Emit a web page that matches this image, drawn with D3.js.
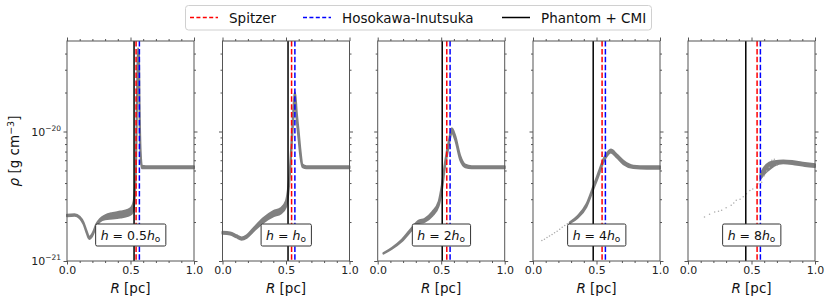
<!DOCTYPE html>
<html>
<head>
<meta charset="utf-8">
<script src="https://cdn.jsdelivr.net/npm/d3@7"></script>
<style>
  body { margin: 0; background: #fff; }
  text { font-family: "DejaVu Sans", sans-serif; }
</style>
</head>
<body>
<svg width="831" height="299"></svg>
<script>
// h multiplier shown in each panel box ('' means h = h_o)
let hLabels = ['0.5', '', '2', '4', '8']
// ionisation front radius [pc]
let phantomR = [0.528, 0.516, 0.508, 0.474, 0.455]
let spitzerR = 0.544
let hosokawaR = 0.570
let xMajor = [0, 0.5, 1.0]
let xMinor = [0.1, 0.2, 0.3, 0.4, 0.6, 0.7, 0.8, 0.9]
let yMajor = [1e-21, 1e-20]
let yMinor = [2e-21, 3e-21, 4e-21, 5e-21, 6e-21, 7e-21, 8e-21, 9e-21, 2e-20, 3e-20, 4e-20]

// density profiles: [R pc, rho low, rho high] in units of 1e-21 g cm^-3
let profile1 = [
  [0.00, 2.22, 2.28], [0.06, 2.24, 2.30], [0.10, 2.14, 2.20], [0.13, 1.93, 1.99],
  [0.155, 1.64, 1.70], [0.175, 1.48, 1.53], [0.20, 1.57, 1.63], [0.23, 1.85, 1.92],
  [0.26, 2.02, 2.11], [0.30, 2.10, 2.25], [0.36, 2.13, 2.35], [0.42, 2.17, 2.41],
  [0.48, 2.23, 2.49], [0.51, 2.31, 2.62], [0.525, 2.55, 2.9], [0.535, 3.2, 3.7],
  [0.545, 6.5, 8.0], [0.552, 18, 22], [0.558, 38, 44], [0.566, 34, 40],
  [0.572, 12, 15], [0.58, 6.2, 7.0], [0.59, 5.2, 5.45], [0.65, 5.2, 5.4], [1.00, 5.2, 5.4]
]
let profile2 = [
  [0.00, 1.62, 1.68], [0.06, 1.60, 1.66], [0.11, 1.52, 1.58], [0.15, 1.46, 1.52],
  [0.19, 1.51, 1.58], [0.24, 1.68, 1.78], [0.32, 1.98, 2.14], [0.40, 2.21, 2.43],
  [0.46, 2.33, 2.56], [0.50, 2.62, 2.92], [0.518, 3.3, 3.75], [0.532, 4.8, 5.4],
  [0.553, 10.5, 12.5], [0.566, 16, 19], [0.572, 17, 20], [0.585, 12, 14],
  [0.60, 8.5, 10], [0.615, 6.2, 7.0], [0.63, 5.3, 5.55], [0.66, 5.2, 5.4], [1.00, 5.2, 5.4]
]
let profile3 = [
  [0.045, 1.14, 1.15], [0.11, 1.24, 1.26], [0.19, 1.42, 1.46], [0.27, 1.74, 1.81],
  [0.32, 1.95, 2.04], [0.37, 2.01, 2.12], [0.43, 2.23, 2.40], [0.48, 2.66, 2.88],
  [0.505, 3.5, 3.85], [0.53, 5.3, 5.8], [0.558, 7.6, 8.3], [0.584, 9.8, 10.6],
  [0.61, 8.6, 9.3], [0.65, 6.0, 6.5], [0.69, 5.3, 5.55], [0.74, 5.2, 5.4], [1.00, 5.2, 5.4]
]
let profile4 = [
  [0.29, 1.96, 1.99], [0.35, 2.15, 2.22], [0.42, 2.61, 2.74], [0.476, 3.6, 3.8],
  [0.516, 4.55, 4.85], [0.555, 5.8, 6.15], [0.594, 6.7, 7.05], [0.613, 6.9, 7.25],
  [0.66, 6.3, 6.65], [0.712, 5.6, 5.95], [0.79, 5.22, 5.45], [0.895, 5.15, 5.38], [1.00, 5.15, 5.38]
]
let profile5 = [
  [0.57, 4.3, 4.7], [0.60, 4.7, 5.3], [0.64, 5.1, 5.75], [0.68, 5.45, 5.9], [0.75, 5.68, 5.98],
  [0.82, 5.62, 5.92], [0.92, 5.42, 5.72], [1.00, 5.32, 5.58]
]
// sparse particles: [R pc, rho] in units of 1e-21
let sparse4 = [
  [0.07, 1.44], [0.09, 1.47], [0.11, 1.52], [0.13, 1.56], [0.15, 1.60], [0.17, 1.65],
  [0.19, 1.70], [0.21, 1.76], [0.23, 1.82], [0.25, 1.88], [0.27, 1.94]
]
let sparse5 = [
  [0.13, 2.19], [0.17, 2.30], [0.21, 2.39], [0.24, 2.42], [0.265, 2.47], [0.30, 2.58],
  [0.34, 2.69], [0.36, 2.80], [0.38, 2.94], [0.41, 3.00], [0.435, 3.13], [0.46, 3.30],
  [0.487, 3.51], [0.51, 3.60], [0.54, 3.72], [0.55, 3.95], [0.565, 4.15], [0.58, 4.05],
  [0.60, 4.55], [0.62, 4.95], [0.64, 5.3], [0.66, 6.0], [0.68, 6.1], [0.70, 5.5]
]
let profiles = [profile1, profile2, profile3, profile4, profile5]
let sparses = [[], [], [], sparse4, sparse5]

let svg = d3.select('svg')
let panelLeft = [67, 222.5, 377.7, 533, 688]
let pw = 127
let topY = 41
let ph = 220
let gray = '#808080'
let axisColor = '#555'

let x = d3.scaleLinear().domain([0, 1]).range([0, pw])
let y = d3.scaleLog().domain([1e-21, 5e-20]).range([ph, 0])

let area = d3.area()
  .x(d => x(d[0]))
  .y0(d => y(d[1] * 1e-21))
  .y1(d => y(d[2] * 1e-21))
  .curve(d3.curveMonotoneX)

function styleAxis(g) {
  g.select('.domain').remove()
  g.selectAll('line').attr('stroke', axisColor)
  g.selectAll('text').attr('fill', '#222').style('font-size', '11px')
}

profiles.forEach((prof, i) => {
  let g = svg.append('g').attr('transform', `translate(${panelLeft[i]},${topY})`)

  // profile band
  g.append('path')
    .datum(prof)
    .attr('d', area)
    .attr('fill', gray)
    .attr('stroke', gray)
    .attr('stroke-width', 2)
    .attr('stroke-linejoin', 'round')

  g.selectAll('circle.sp')
    .data(sparses[i])
    .enter()
    .append('circle')
    .attr('class', 'sp')
    .attr('cx', d => x(d[0]))
    .attr('cy', d => y(d[1] * 1e-21))
    .attr('r', 0.75)
    .attr('fill', '#aaa')

  // front radii
  let vlines = [
    { r: phantomR[i], color: 'black', dash: null },
    { r: spitzerR, color: 'red', dash: '5.5,2.4' },
    { r: hosokawaR, color: 'blue', dash: '5.5,2.4' }
  ]
  g.selectAll('line.v')
    .data(vlines)
    .enter()
    .append('line')
    .attr('class', 'v')
    .attr('x1', d => x(d.r))
    .attr('x2', d => x(d.r))
    .attr('y1', 0)
    .attr('y2', ph)
    .attr('stroke', d => d.color)
    .attr('stroke-width', 1.5)
    .attr('stroke-dasharray', d => d.dash)

  // axes
  g.append('g').attr('transform', `translate(0,${ph})`)
    .call(d3.axisBottom(x).tickValues(xMajor).tickFormat(d3.format('.1f')).tickSize(3.5).tickPadding(2))
    .call(styleAxis)
  g.append('g').attr('transform', `translate(0,${ph})`)
    .call(d3.axisBottom(x).tickValues(xMinor).tickFormat('').tickSize(2))
    .call(styleAxis)
  g.append('g')
    .call(d3.axisTop(x).tickValues(xMajor).tickFormat('').tickSize(3.5))
    .call(styleAxis)
  g.append('g')
    .call(d3.axisTop(x).tickValues(xMinor).tickFormat('').tickSize(2))
    .call(styleAxis)
  g.append('g').attr('transform', `translate(${pw},0)`)
    .call(d3.axisRight(y).tickValues(yMajor).tickFormat('').tickSize(3.5))
    .call(styleAxis)
  g.append('g').attr('transform', `translate(${pw},0)`)
    .call(d3.axisRight(y).tickValues(yMinor).tickFormat('').tickSize(2))
    .call(styleAxis)
  g.append('g')
    .call(d3.axisLeft(y).tickValues(yMajor).tickFormat('').tickSize(3.5))
    .call(styleAxis)
  g.append('g')
    .call(d3.axisLeft(y).tickValues(yMinor).tickFormat('').tickSize(2))
    .call(styleAxis)

  if (i === 0) {
    yMajor.forEach(v => {
      let t = g.append('text')
        .attr('x', -6)
        .attr('y', y(v) + 4)
        .attr('text-anchor', 'end')
        .style('font-size', '11px')
        .attr('fill', '#222')
      t.append('tspan').text('10')
      t.append('tspan').attr('dy', -5).style('font-size', '7.5px').text('\u2212' + (-Math.round(Math.log10(v))))
    })
  }

  g.append('rect')
    .attr('width', pw).attr('height', ph)
    .attr('fill', 'none')
    .attr('stroke', axisColor)
    .attr('stroke-width', 1)

  // label box
  let lab = g.append('g').attr('transform', `translate(${x(0.5)},${194})`)
  let txt = lab.append('text')
    .attr('text-anchor', 'middle')
    .attr('y', 4.5)
    .style('font-size', '12.5px')
    .attr('fill', '#111')
  txt.append('tspan').style('font-style', 'italic').text('h')
  txt.append('tspan').text(' = ' + hLabels[i])
  txt.append('tspan').style('font-style', 'italic').text('h')
  txt.append('tspan').attr('dy', 2.5).style('font-size', '9px').text('o')
  let bb = txt.node().getBBox()
  lab.insert('rect', 'text')
    .attr('x', bb.x - 5)
    .attr('y', -11)
    .attr('width', bb.width + 10)
    .attr('height', 22)
    .attr('rx', 1.5)
    .attr('fill', 'white')
    .attr('stroke', '#333')
    .attr('stroke-width', 1)

  // x label
  let xl = g.append('text')
    .attr('x', pw / 2)
    .attr('y', ph + 32)
    .attr('text-anchor', 'middle')
    .style('font-size', '13.5px')
    .attr('fill', '#111')
  xl.append('tspan').style('font-style', 'italic').text('R')
  xl.append('tspan').text(' [pc]')
})

// y label
let ylab = svg.append('text')
  .attr('transform', `translate(19,${topY + ph / 2}) rotate(-90)`)
  .attr('text-anchor', 'middle')
  .style('font-size', '13.5px')
  .attr('fill', '#111')
ylab.append('tspan').style('font-style', 'italic').text('\u03c1')
ylab.append('tspan').text(' [g cm')
ylab.append('tspan').attr('dy', -5).style('font-size', '9.5px').text('\u22123')
ylab.append('tspan').attr('dy', 5).text(']')

// legend
let legendItems = [
  { name: 'Spitzer', color: 'red', dash: '4,2.4', x: 190 },
  { name: 'Hosokawa-Inutsuka', color: 'blue', dash: '4,2.4', x: 303 },
  { name: 'Phantom + CMI', color: 'black', dash: null, x: 502 }
]
svg.append('rect')
  .attr('x', 185.5).attr('y', 5.5)
  .attr('width', 466).attr('height', 24.5)
  .attr('rx', 3)
  .attr('fill', 'white')
  .attr('stroke', '#d0d0d0')
let leg = svg.selectAll('g.leg')
  .data(legendItems)
  .enter()
  .append('g')
  .attr('class', 'leg')
  .attr('transform', d => `translate(${d.x},17.5)`)
leg.append('line')
  .attr('x1', 0).attr('x2', 28)
  .attr('stroke', d => d.color)
  .attr('stroke-width', 1.5)
  .attr('stroke-dasharray', d => d.dash)
leg.append('text')
  .attr('x', 39)
  .attr('y', 5)
  .style('font-size', '13.5px')
  .attr('fill', '#111')
  .text(d => d.name)
</script>
</body>
</html>
